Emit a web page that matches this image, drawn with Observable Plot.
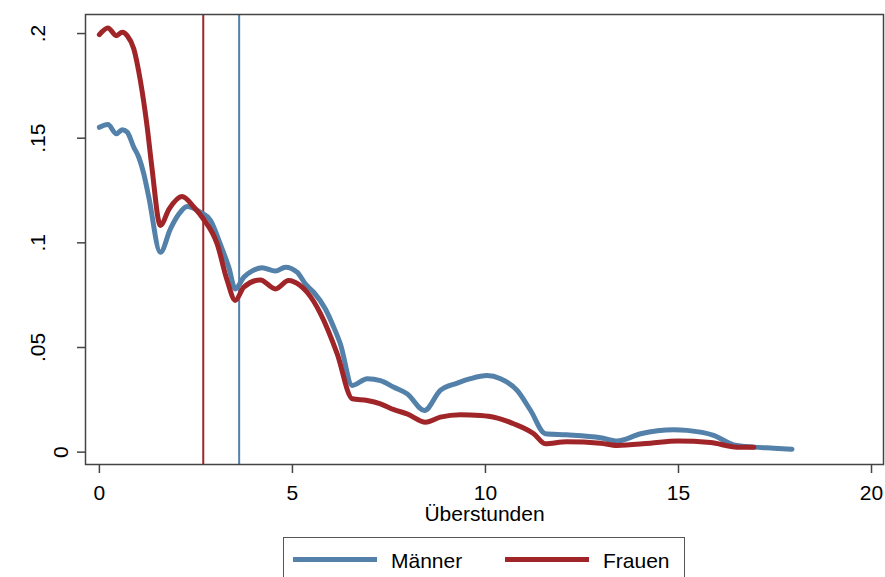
<!DOCTYPE html>
<html>
<head>
<meta charset="utf-8">
<script src="https://cdn.jsdelivr.net/npm/d3@7"></script>
<script src="https://cdn.jsdelivr.net/npm/@observablehq/plot@0.6"></script>
<style>
  html, body { margin: 0; padding: 0; background: #fff; }
  #wrap { position: relative; width: 885px; height: 577px; overflow: hidden; font-family: "Liberation Sans", Arial, sans-serif; }
  #legend { position: absolute; left: 283px; top: 537px; width: 402px; height: 60px; border: 1px solid #555; box-sizing: border-box; background: #fff; }
  .sw { position: absolute; height: 5px; }
  .lt { position: absolute; font-size: 21px; color: #000; line-height: 1; }
</style>
</head>
<body>
<div id="wrap"><div id="chart"></div><div id="legend"></div></div>
<script>
// Überstunden (x) and density (y)
const maennerX = [0.00,0.22,0.44,0.59,0.72,0.89,1.02,1.15,1.28,1.58,1.84,2.05,2.27,2.62,2.88,3.13,3.35,3.52,3.74,3.95,4.21,4.56,4.82,5.12,5.35,5.55,5.85,6.07,6.24,6.55,6.94,7.28,7.63,7.97,8.42,8.83,9.27,9.61,10.04,10.39,10.82,11.17,11.55,12.10,12.98,13.41,14.02,14.88,15.22,15.91,16.43,16.95,17.47,17.94];
const maennerY = [0.1552,0.1565,0.1521,0.1540,0.1529,0.1457,0.1409,0.1330,0.1218,0.0955,0.1067,0.1135,0.1174,0.1146,0.1107,0.0995,0.0884,0.0780,0.0836,0.0865,0.0881,0.0865,0.0884,0.0860,0.0800,0.0764,0.0685,0.0597,0.0518,0.0319,0.0351,0.0342,0.0310,0.0279,0.0199,0.0295,0.0330,0.0351,0.0366,0.0351,0.0295,0.0199,0.0088,0.0083,0.0069,0.0053,0.0088,0.0107,0.0104,0.0080,0.0035,0.0024,0.0019,0.0014];
const frauenX = [0.00,0.22,0.44,0.59,0.72,0.89,1.06,1.24,1.36,1.58,1.80,2.14,2.45,2.69,3.05,3.31,3.52,3.74,4.17,4.56,4.90,5.20,5.38,5.73,6.16,6.55,6.94,7.28,7.63,7.97,8.45,8.83,9.35,9.87,10.22,10.73,11.25,11.55,12.10,12.98,13.41,14.27,14.97,15.83,16.52,16.95];
const frauenY = [0.1995,0.2027,0.1990,0.2006,0.1990,0.1927,0.1776,0.1550,0.1360,0.1083,0.1160,0.1221,0.1170,0.1115,0.0995,0.0820,0.0725,0.0788,0.0823,0.0780,0.0820,0.0796,0.0764,0.0661,0.0470,0.0255,0.0247,0.0231,0.0203,0.0183,0.0143,0.0167,0.0179,0.0175,0.0167,0.0136,0.0088,0.0040,0.0050,0.0043,0.0032,0.0043,0.0053,0.0046,0.0024,0.0024];
const meanGroups = ["Frauen", "Männer"];
const meanValues = [2.69, 3.62];
const seriesNames = ["Männer", "Frauen"];
const xTicks = [0, 5, 10, 15, 20];
const yTicks = [0.05, 0.1, 0.15, 0.2];
const yTickLabels = [".05", ".1", ".15", ".2"];
const yZeroTick = [0];
const xTitle = "Überstunden";

const colors = {"Männer": "#5381aa", "Frauen": "#a02528"};

const men = maennerX.map((x, i) => ({x, y: maennerY[i]}));
const women = frauenX.map((x, i) => ({x, y: frauenY[i]}));
const means = meanGroups.map((g, i) => ({g, v: meanValues[i]}));

const chart = Plot.plot({
  width: 885,
  height: 532,
  marginLeft: 85,
  marginRight: 2,
  marginTop: 14,
  marginBottom: 68,
  style: {fontFamily: "'Liberation Sans', Arial, sans-serif", fontSize: "21px", color: "#000", background: "#fff", overflow: "visible"},
  x: {domain: [-0.36, 20.31]},
  y: {domain: [-0.0059, 0.2091]},
  marks: [
    Plot.ruleX(means, {x: "v", stroke: d => colors[d.g], strokeWidth: 2}),
    Plot.line(men, {x: "x", y: "y", curve: "monotone-x", stroke: colors["Männer"], strokeWidth: 5, strokeLinejoin: "round", strokeLinecap: "round"}),
    Plot.line(women, {x: "x", y: "y", curve: "monotone-x", stroke: colors["Frauen"], strokeWidth: 5, strokeLinejoin: "round", strokeLinecap: "round"}),
    Plot.frame({stroke: "#444", strokeWidth: 1.5}),
    Plot.axisX({ticks: xTicks, tickSize: 9, tickPadding: 12, tickFormat: d => String(d), label: null, stroke: "#444", strokeWidth: 1.5, fontSize: 21}),
    Plot.axisY({ticks: yTicks, tickSize: 8, tickRotate: -90, tickPadding: 33, tickFormat: (d, i) => yTickLabels[yTicks.indexOf(d)], label: null, stroke: "#444", strokeWidth: 1.5, fontSize: 21}),
    Plot.axisY({ticks: yZeroTick, tickSize: 8, tickRotate: -90, tickPadding: 10, tickFormat: d => "0", label: null, stroke: "#444", strokeWidth: 1.5, fontSize: 21}),
    Plot.text([xTitle], {frameAnchor: "bottom", lineAnchor: "top", dy: 42, fontSize: 21, fill: "#000"})
  ]
});
document.getElementById("chart").appendChild(chart);

// legend
const legend = document.getElementById("legend");
const items = [
  {name: seriesNames[0], swLeft: 9, txtLeft: 107},
  {name: seriesNames[1], swLeft: 221, txtLeft: 319}
];
for (const it of items) {
  const sw = document.createElement("div");
  sw.className = "sw";
  sw.style.left = it.swLeft + "px";
  sw.style.top = "19px";
  sw.style.width = "84px";
  sw.style.background = colors[it.name];
  legend.appendChild(sw);
  const t = document.createElement("div");
  t.className = "lt";
  t.style.left = it.txtLeft + "px";
  t.style.top = "12px";
  t.textContent = it.name;
  legend.appendChild(t);
}
</script>
</body>
</html>
